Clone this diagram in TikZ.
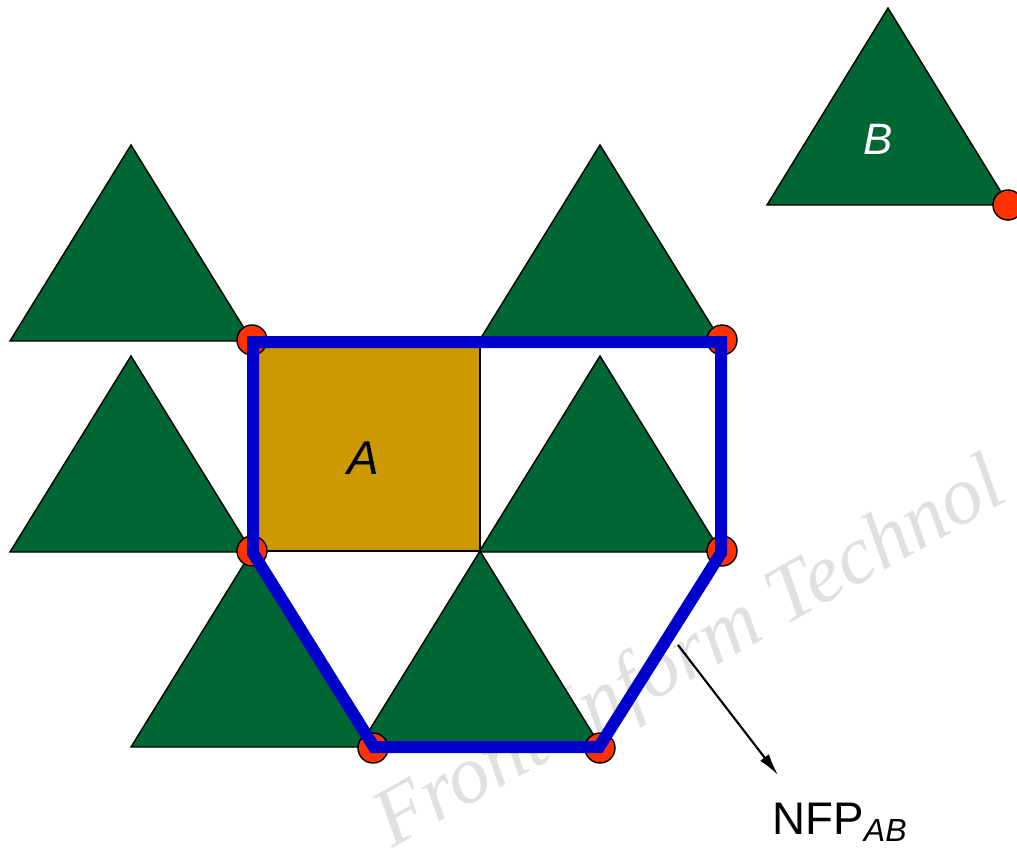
\documentclass[tikz,border=0pt]{standalone}
\usepackage{fontspec}
\setmainfont{Liberation Sans}
\newfontfamily\markfont{Liberation Serif}
\usetikzlibrary{arrows.meta}
\definecolor{piecegreen}{HTML}{006633}
\definecolor{piecegold}{HTML}{CC9900}
\definecolor{refred}{HTML}{FF3300}
\definecolor{nfpblue}{HTML}{0000CC}
\definecolor{markgray}{HTML}{E0E0E0}

\begin{document}
\begin{tikzpicture}[x=0.2mm,y=-0.2mm,
  tri/.style={draw=black,fill=piecegreen,line width=0.8pt},
  sq/.style={draw=black,fill=piecegold,line width=0.6pt},
  refpt/.style={circle,draw=black,fill=refred,line width=0.8pt,minimum size=6mm,inner sep=0pt},
  nfp/.style={draw=nfpblue,line width=2.4mm,line join=miter},
  lbl/.style={font=\fontsize{27}{27}\selectfont\itshape},
  >={Latex[length=4.4mm,width=2.2mm]}]
\useasboundingbox (0,0) rectangle (1017,851);
% watermark
\node[rotate=29.5,anchor=base west,inner sep=0pt,text=markgray,
  font=\markfont\itshape\fontsize{47}{47}\selectfont] (mark) at (392,849) {Front Inform Technol};
% orbiting copies of B
\foreach \ax/\ay in {131/145,600/145,131/356,600/356,252/551,480/551}
  \draw[tri] (\ax,\ay) -- (\ax+121,\ay+196) -- (\ax-121,\ay+196) -- cycle;
% polygon A
\draw[sq] (252,341) rectangle (480,551);
\node[lbl] (a) at (363,458) {A};
% polygon B
\draw[tri] (888,8) -- (1009,205) -- (767,205) -- cycle;
\node[lbl,text=white,font=\fontsize{25}{25}\selectfont\itshape] (b) at (878,139) {B};
\node[refpt] (rb) at (1008,205) {};
% reference points
\node[refpt] (p1) at (252,340) {};
\node[refpt] (p2) at (722,340) {};
\node[refpt] (p3) at (722,551) {};
\node[refpt] (p4) at (600,748) {};
\node[refpt] (p5) at (373,748) {};
\node[refpt] (p6) at (252,551) {};
% no-fit polygon
\draw[nfp] (253,342) -- (721,342) -- (721,553) -- (599,747) -- (374,747) -- (253,553) -- cycle;
% label
\coordinate (tail) at (678,645);
\coordinate (tip) at (778,775);
\node[font=\fontsize{26}{26}\selectfont] (nfp) at (840,822) {NFP\textsubscript{\itshape AB}};
\draw[->,line width=1.2pt] (tail) -- (tip);
\end{tikzpicture}
\end{document}
